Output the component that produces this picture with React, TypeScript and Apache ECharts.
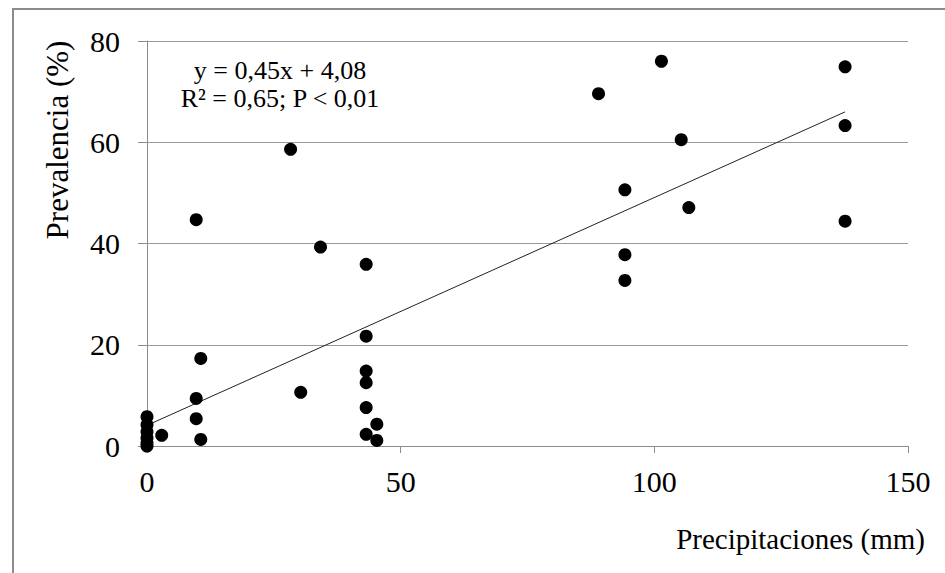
import React, { useEffect, useRef } from "react";
import * as echarts from "echarts";

const xValues = [0, 0, 0, 0, 0, 0, 2.9, 9.7, 9.7, 9.7, 10.6, 10.6, 28.3, 30.3, 34.2, 43.2, 43.2, 43.2, 43.2, 43.2, 43.2, 45.3, 45.3, 89.0, 94.2, 94.2, 94.2, 101.4, 105.3, 106.8, 137.6, 137.6, 137.6];
const yValues = [0, 0.6, 1.6, 2.8, 4.2, 5.8, 2.1, 44.7, 9.4, 5.4, 17.3, 1.3, 58.6, 10.6, 39.3, 35.9, 21.7, 14.8, 12.5, 7.6, 2.3, 4.3, 1.1, 69.6, 50.6, 37.8, 32.7, 76.0, 60.5, 47.1, 74.9, 63.3, 44.4];

const slope = 0.45;
const intercept = 4.08;
const xTicks = [0, 50, 100, 150];
const yTicks = [0, 20, 40, 60, 80];
const equationLines = ["y = 0,45x + 4,08", "R² = 0,65; P < 0,01"];
const xTitle = "Precipitaciones (mm)";
const yTitle = "Prevalencia (%)";

const FONT = "Liberation Serif";

export default function App() {
  const ref = useRef<HTMLDivElement>(null);
  useEffect(() => {
    if (!ref.current) return;
    const chart = echarts.init(ref.current, undefined, { renderer: "svg" });
    const points = xValues.map((x, i) => [x, yValues[i]]);
    const xMax = Math.max(...xValues);
    const trend = [
      [0, intercept],
      [xMax, slope * xMax + intercept],
    ];
    chart.setOption({
      animation: false,
      backgroundColor: "#ffffff",
      textStyle: { fontFamily: FONT },
      grid: { left: 147, right: 37, top: 41, bottom: 127, containLabel: false },
      xAxis: {
        type: "value",
        min: xTicks[0],
        max: xTicks[xTicks.length - 1],
        interval: 50,
        axisLine: { show: true, onZero: false, lineStyle: { color: "#8c8c8c", width: 1 } },
        axisTick: { show: true, length: 7, lineStyle: { color: "#8c8c8c" } },
        axisLabel: { color: "#000", fontFamily: FONT, fontSize: 30, margin: 20 },
        splitLine: { show: false },
      },
      yAxis: {
        type: "value",
        min: yTicks[0],
        max: yTicks[yTicks.length - 1],
        interval: 20,
        axisLine: { show: true, lineStyle: { color: "#8c8c8c", width: 1 } },
        axisTick: { show: true, length: 9, lineStyle: { color: "#8c8c8c" } },
        axisLabel: { color: "#000", fontFamily: FONT, fontSize: 30, margin: 27 },
        splitLine: { show: true, lineStyle: { color: "#9a9a9a", width: 1 } },
      },
      series: [
        {
          type: "line",
          data: trend,
          symbol: "none",
          lineStyle: { color: "#222", width: 1 },
          silent: true,
          z: 3,
        },
        {
          type: "scatter",
          data: points,
          symbol: "circle",
          symbolSize: 13,
          itemStyle: { color: "#000", opacity: 1 },
          z: 4,
        },
      ],
      graphic: [
        {
          type: "rect",
          shape: { x: 13, y: 9, width: 1000, height: 1000 },
          style: { fill: "none", stroke: "#8c8c8c", lineWidth: 2 },
          silent: true,
        },
        {
          type: "text",
          x: 280,
          y: 84,
          style: {
            text: equationLines.join("\n"),
            fontFamily: FONT,
            fontSize: 26,
            lineHeight: 28,
            fill: "#000",
            align: "center",
            verticalAlign: "middle",
          },
        },
        {
          type: "text",
          x: 925,
          y: 539,
          style: {
            text: xTitle,
            fontFamily: FONT,
            fontSize: 29,
            fill: "#000",
            align: "right",
            verticalAlign: "middle",
          },
        },
        {
          type: "text",
          x: 57,
          y: 140,
          rotation: Math.PI / 2,
          style: {
            text: yTitle,
            fontFamily: FONT,
            fontSize: 31,
            fill: "#000",
            align: "center",
            verticalAlign: "middle",
          },
        },
      ],
    });
    return () => chart.dispose();
  }, []);
  return (
    <div
      ref={ref}
      style={{ position: "fixed", left: 0, top: 0, width: 945, height: 573 }}
    />
  );
}
